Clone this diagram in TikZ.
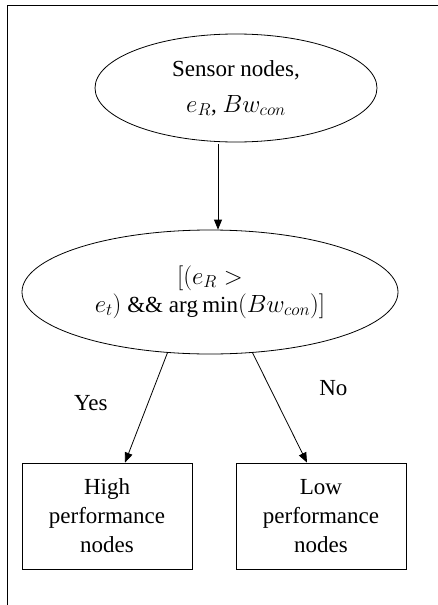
\documentclass[tikz,border=0pt]{standalone}
\usepackage{fontspec}
\setmainfont{Liberation Serif}
\usetikzlibrary{arrows.meta,shapes.geometric}

\tikzset{
  flowtext/.style={font=\fontsize{23}{29}\selectfont, align=center},
  oval/.style={ellipse, draw, line width=0.8pt, inner sep=0pt, flowtext},
  outbox/.style={rectangle, draw, line width=0.8pt, minimum width=170pt, minimum height=106pt, inner sep=0pt, flowtext},
  flow/.style={-{Triangle[length=10pt,width=8pt]}, line width=0.8pt},
  answer/.style={inner sep=0pt, flowtext}
}

\begin{document}
\begin{tikzpicture}[x=1pt,y=-1pt]
    \useasboundingbox (0,0) rectangle (438,605);
    \draw[line width=1pt] (7,605) |- (438,5);

    \node[oval, minimum width=282pt, minimum height=108pt] (sensor) at (236,88)
        {Sensor nodes,\\[7pt] $e_R$, $Bw_{con}$};
    \node[oval, minimum width=376pt, minimum height=124pt] (cond) at (210,292)
        {$[(e_R >$\\[-1pt] $e_t)$ \&\& $\arg\min(Bw_{con})]$};
    \node[outbox] (high) at (107,516) {High\\performance\\nodes};
    \node[outbox] (low) at (321,516) {Low\\performance\\nodes};

    \draw[flow] ([xshift=-18pt,yshift=-2pt]sensor.south) -- ([xshift=8pt]cond.north);
    \draw[flow] (cond.235) -- ([xshift=18pt]high.north)
        node[answer, pos=.46, left=40pt] {Yes};
    \draw[flow] (cond.305) -- ([xshift=-14pt]low.north)
        node[answer, pos=.32, right=49pt] {No};
\end{tikzpicture}
\end{document}
